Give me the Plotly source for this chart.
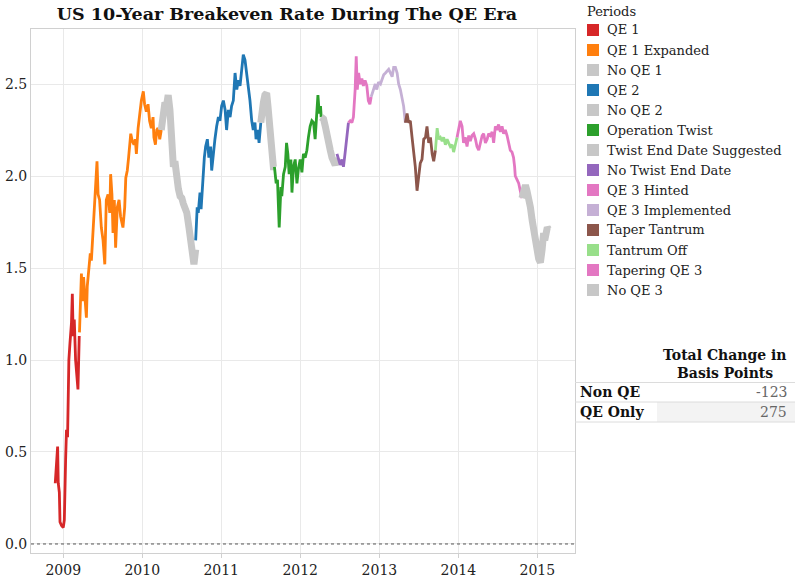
import plotly.graph_objects as go

# ---------------- data ----------------
periods = ["QE 1", "QE 1 Expanded", "No QE 1", "QE 2", "No QE 2", "Operation Twist",
           "Twist End Date Suggested", "No Twist End Date", "QE 3 Hinted", "QE 3 Implemented",
           "Taper Tantrum", "Tantrum Off", "Tapering QE 3", "No QE 3"]
period_colors = ["#d62728", "#ff7f0e", "#c7c7c7", "#1f77b4", "#c7c7c7", "#2ca02c",
                 "#c7c7c7", "#9467bd", "#e377c2", "#c5b0d5",
                 "#8c564b", "#98df8a", "#e377c2", "#c7c7c7"]
non_qe_periods = ["No QE 1", "No QE 2", "Twist End Date Suggested", "No QE 3"]

qe1_dates = ["2008-11-25", "2008-12-06", "2008-12-09", "2008-12-14", "2008-12-17", "2008-12-24",
             "2009-01-01", "2009-01-06", "2009-01-12", "2009-01-16", "2009-01-21", "2009-01-27",
             "2009-02-01", "2009-02-08", "2009-02-12", "2009-02-16", "2009-02-21", "2009-02-27",
             "2009-03-10", "2009-03-16"]
qe1_vals = [0.33, 0.53, 0.33, 0.28, 0.12, 0.10, 0.09, 0.13, 0.46, 0.62, 0.58, 1.00,
            1.09, 1.20, 1.36, 1.13, 1.22, 1.00, 0.84, 1.13]

qe1x_dates = ["2009-03-17", "2009-03-23", "2009-03-26", "2009-03-30", "2009-04-05", "2009-04-10",
              "2009-04-18", "2009-04-22", "2009-04-29", "2009-05-06", "2009-05-11", "2009-05-19",
              "2009-05-26", "2009-05-31", "2009-06-06", "2009-06-11", "2009-06-18", "2009-06-26",
              "2009-07-04", "2009-07-12", "2009-07-19", "2009-07-27", "2009-08-04", "2009-08-08",
              "2009-08-14", "2009-08-19", "2009-08-25", "2009-08-31", "2009-09-08", "2009-09-16",
              "2009-09-23", "2009-10-04", "2009-10-12", "2009-10-17", "2009-10-24", "2009-10-30",
              "2009-11-04", "2009-11-09", "2009-11-16", "2009-11-24", "2009-11-30", "2009-12-05",
              "2009-12-13", "2009-12-20", "2009-12-28", "2010-01-06", "2010-01-12", "2010-01-20",
              "2010-01-28", "2010-02-04", "2010-02-12", "2010-02-20", "2010-02-24", "2010-03-03",
              "2010-03-09", "2010-03-15", "2010-03-23", "2010-03-30"]
qe1x_vals = [1.15, 1.36, 1.47, 1.32, 1.45, 1.36, 1.23, 1.40, 1.52, 1.58, 1.54, 1.72,
             1.81, 1.94, 2.08, 1.90, 1.87, 1.72, 1.65, 1.52, 1.87, 1.90, 1.80, 2.01,
             1.90, 1.69, 1.87, 1.61, 1.83, 1.87, 1.78, 1.72, 1.83, 1.99, 2.03, 2.10,
             2.16, 2.23, 2.19, 2.17, 2.20, 2.12, 2.26, 2.35, 2.41, 2.46, 2.39, 2.35,
             2.39, 2.30, 2.26, 2.32, 2.21, 2.17, 2.25, 2.26, 2.20, 2.25]

noqe1_dates = ["2010-03-30", "2010-04-08", "2010-04-16", "2010-04-23", "2010-05-01", "2010-05-09",
               "2010-05-17", "2010-05-25", "2010-06-01", "2010-06-09", "2010-06-17", "2010-06-25",
               "2010-07-03", "2010-07-10", "2010-07-18", "2010-07-26", "2010-08-05", "2010-08-14",
               "2010-08-22", "2010-08-28", "2010-09-05"]
noqe1_vals = [2.25, 2.33, 2.40, 2.38, 2.44, 2.36, 2.22, 2.05, 2.08, 1.97, 1.93, 1.89,
              1.88, 1.85, 1.83, 1.80, 1.72, 1.65, 1.58, 1.52, 1.60]

qe2_dates = ["2010-09-05", "2010-09-12", "2010-09-17", "2010-09-25", "2010-09-30", "2010-10-06",
             "2010-10-15", "2010-10-21", "2010-10-29", "2010-11-05", "2010-11-13", "2010-11-18",
             "2010-11-26", "2010-12-03", "2010-12-11", "2010-12-19", "2010-12-26", "2011-01-03",
             "2011-01-11", "2011-01-19", "2011-01-26", "2011-02-03", "2011-02-11", "2011-02-18",
             "2011-02-26", "2011-03-06", "2011-03-14", "2011-03-21", "2011-03-29", "2011-04-06",
             "2011-04-13", "2011-04-21", "2011-04-29", "2011-05-06", "2011-05-14", "2011-05-22",
             "2011-05-29", "2011-06-06", "2011-06-11", "2011-06-19", "2011-06-25", "2011-07-03"]
qe2_vals = [1.65, 1.83, 1.80, 1.91, 1.82, 1.94, 2.10, 2.16, 2.20, 2.10, 2.16, 2.03,
            2.14, 2.20, 2.27, 2.32, 2.30, 2.38, 2.41, 2.36, 2.25, 2.36, 2.32, 2.38,
            2.41, 2.56, 2.47, 2.52, 2.49, 2.59, 2.66, 2.63, 2.56, 2.50, 2.41, 2.30,
            2.25, 2.29, 2.20, 2.25, 2.18, 2.29]

noqe2_dates = ["2011-07-03", "2011-07-08", "2011-07-15", "2011-07-22", "2011-07-30", "2011-08-05",
               "2011-08-10", "2011-08-15", "2011-08-20", "2011-08-25", "2011-08-30", "2011-09-04"]
noqe2_vals = [2.29, 2.36, 2.40, 2.44, 2.45, 2.38, 2.30, 2.24, 2.17, 2.10, 2.05, 2.05]

twist_dates = ["2011-09-04", "2011-09-12", "2011-09-18", "2011-09-26", "2011-10-04", "2011-10-08",
               "2011-10-16", "2011-10-24", "2011-10-30", "2011-11-05", "2011-11-11", "2011-11-19",
               "2011-11-24", "2011-12-01", "2011-12-09", "2011-12-17", "2011-12-24", "2012-01-01",
               "2012-01-09", "2012-01-16", "2012-01-24", "2012-02-01", "2012-02-08", "2012-02-16",
               "2012-02-24", "2012-03-03", "2012-03-10", "2012-03-18", "2012-03-23", "2012-03-29",
               "2012-04-04", "2012-04-07"]
twist_vals = [2.05, 1.96, 1.98, 1.72, 1.94, 1.89, 2.01, 2.05, 2.18, 2.12, 2.01, 2.09,
              1.91, 2.05, 2.09, 1.96, 2.04, 2.09, 2.02, 2.12, 2.10, 2.14, 2.21, 2.27,
              2.30, 2.29, 2.20, 2.36, 2.44, 2.34, 2.38, 2.32]

twist_end_dates = ["2012-04-07", "2012-04-18", "2012-04-26", "2012-05-03", "2012-05-11",
                   "2012-05-19", "2012-05-27", "2012-06-03", "2012-06-11", "2012-06-19"]
twist_end_vals = [2.32, 2.31, 2.27, 2.21, 2.20, 2.14, 2.10, 2.07, 2.06, 2.10]

no_twist_end_dates = ["2012-06-19", "2012-06-26", "2012-07-04", "2012-07-12", "2012-07-19",
                      "2012-07-27", "2012-08-04", "2012-08-11"]
no_twist_end_vals = [2.12, 2.09, 2.06, 2.09, 2.05, 2.13, 2.23, 2.29]

qe3_hint_dates = ["2012-08-11", "2012-08-19", "2012-08-27", "2012-09-03", "2012-09-11", "2012-09-16",
                  "2012-09-21", "2012-09-27", "2012-10-04", "2012-10-12", "2012-10-19", "2012-10-27",
                  "2012-11-04", "2012-11-11", "2012-11-18", "2012-11-24"]
qe3_hint_vals = [2.29, 2.30, 2.29, 2.32, 2.47, 2.65, 2.47, 2.56, 2.50, 2.53, 2.49, 2.52,
                 2.49, 2.41, 2.39, 2.43]

qe3_impl_dates = ["2012-11-24", "2012-12-05", "2012-12-13", "2012-12-20", "2012-12-28", "2013-01-06",
                  "2013-01-13", "2013-01-21", "2013-01-29", "2013-02-06", "2013-02-13", "2013-02-21",
                  "2013-03-01", "2013-03-08", "2013-03-16", "2013-03-24", "2013-03-31", "2013-04-08",
                  "2013-04-16", "2013-04-23", "2013-05-01"]
qe3_impl_vals = [2.43, 2.47, 2.50, 2.47, 2.51, 2.50, 2.53, 2.55, 2.56, 2.57, 2.58, 2.56,
                 2.54, 2.59, 2.59, 2.56, 2.50, 2.47, 2.42, 2.38, 2.29]

tantrum_dates = ["2013-05-01", "2013-05-09", "2013-05-16", "2013-05-24", "2013-06-01", "2013-06-08",
                 "2013-06-16", "2013-06-24", "2013-07-02", "2013-07-09", "2013-07-17", "2013-07-25",
                 "2013-08-02", "2013-08-09", "2013-08-17", "2013-08-25", "2013-09-02", "2013-09-09",
                 "2013-09-17"]
tantrum_vals = [2.29, 2.34, 2.29, 2.30, 2.21, 2.14, 2.05, 1.92, 2.01, 2.07, 2.09, 2.20,
                2.21, 2.27, 2.18, 2.21, 2.12, 2.08, 2.14]

tantrum_off_dates = ["2013-09-17", "2013-09-25", "2013-10-02", "2013-10-10", "2013-10-18", "2013-10-25",
                     "2013-11-02", "2013-11-10", "2013-11-17", "2013-11-25", "2013-12-03", "2013-12-10",
                     "2013-12-18", "2013-12-26"]
tantrum_off_vals = [2.14, 2.26, 2.20, 2.21, 2.19, 2.21, 2.17, 2.20, 2.18, 2.16, 2.17, 2.13,
                    2.17, 2.21]

tapering_dates = ["2013-12-26", "2014-01-02", "2014-01-10", "2014-01-18", "2014-01-25", "2014-02-02",
                  "2014-02-10", "2014-02-18", "2014-02-25", "2014-03-05", "2014-03-13", "2014-03-21",
                  "2014-03-28", "2014-04-05", "2014-04-13", "2014-04-21", "2014-04-28", "2014-05-06",
                  "2014-05-14", "2014-05-21", "2014-05-29", "2014-06-06", "2014-06-13", "2014-06-21",
                  "2014-06-29", "2014-07-06", "2014-07-14", "2014-07-22", "2014-07-29", "2014-08-06",
                  "2014-08-14", "2014-08-21", "2014-08-29", "2014-09-06", "2014-09-13", "2014-09-18",
                  "2014-09-21", "2014-09-29", "2014-10-07", "2014-10-14", "2014-10-22"]
tapering_vals = [2.21, 2.25, 2.30, 2.27, 2.18, 2.21, 2.16, 2.22, 2.19, 2.22, 2.23, 2.20,
                 2.16, 2.14, 2.18, 2.22, 2.23, 2.18, 2.20, 2.23, 2.22, 2.24, 2.18, 2.27,
                 2.25, 2.28, 2.24, 2.27, 2.23, 2.25, 2.22, 2.18, 2.14, 2.13, 2.10, 2.05,
                 2.00, 1.98, 1.96, 1.92, 1.88]

noqe3_dates = ["2014-10-22", "2014-10-30", "2014-11-07", "2014-11-14", "2014-11-22", "2014-11-30",
               "2014-12-08", "2014-12-15", "2014-12-23", "2014-12-31", "2015-01-07", "2015-01-15",
               "2015-01-23", "2015-01-30", "2015-02-04", "2015-02-10", "2015-02-16", "2015-02-22"]
noqe3_vals = [1.88, 1.94, 1.95, 1.92, 1.89, 1.83, 1.76, 1.69, 1.63, 1.60, 1.55, 1.53,
              1.60, 1.69, 1.65, 1.71, 1.72, 1.71]

series_dates = [qe1_dates, qe1x_dates, noqe1_dates, qe2_dates, noqe2_dates, twist_dates,
                twist_end_dates, no_twist_end_dates, qe3_hint_dates, qe3_impl_dates,
                tantrum_dates, tantrum_off_dates, tapering_dates, noqe3_dates]
series_vals = [qe1_vals, qe1x_vals, noqe1_vals, qe2_vals, noqe2_vals, twist_vals,
               twist_end_vals, no_twist_end_vals, qe3_hint_vals, qe3_impl_vals,
               tantrum_vals, tantrum_off_vals, tapering_vals, noqe3_vals]

y_ticks = [0.0, 0.5, 1.0, 1.5, 2.0, 2.5]
table_header = ["Total Change in", "Basis Points"]
table_labels = ["Non QE", "QE Only"]
table_values = [-123, 275]

title_text = "US 10-Year Breakeven Rate During The QE Era"
legend_title = "Periods"

# ---------------- layout geometry (pixels) ----------------
W, H = 804, 584
L, R, T, B = 31, 575, 29, 553
FONT = "DejaVu Serif"


def fx(px):
    return (px - L) / (R - L)


def fy(py):
    return (B - py) / (B - T)


fig = go.Figure()

for name, col, d, v in zip(periods, period_colors, series_dates, series_vals):
    width = 7 if name in non_qe_periods else 2.8
    fig.add_trace(go.Scatter(x=d, y=v, mode="lines", name=name,
                             line=dict(color=col, width=width),
                             showlegend=False,
                             hovertemplate="%{x|%b %d, %Y}: %{y:.2f}<extra>" + name + "</extra>"))

shapes = []
annotations = []

# zero line (dotted)
shapes.append(dict(type="line", xref="paper", yref="y", x0=0, x1=1, y0=0, y1=0,
                   line=dict(color="#555555", width=1, dash="dot"), layer="above"))

# manual legend
annotations.append(dict(text=legend_title, xref="paper", yref="paper", x=fx(585), y=fy(11),
                        xanchor="left", yanchor="middle", showarrow=False,
                        font=dict(family=FONT, size=13, color="#222222")))
for i, (name, col) in enumerate(zip(periods, period_colors)):
    cy = 30 + 20 * i
    shapes.append(dict(type="rect", xref="paper", yref="paper",
                       x0=fx(587), x1=fx(599), y0=fy(cy - 6), y1=fy(cy + 6),
                       fillcolor=col, line=dict(width=0)))
    annotations.append(dict(text=name, xref="paper", yref="paper", x=fx(605), y=fy(cy),
                            xanchor="left", yanchor="middle", showarrow=False,
                            font=dict(family=FONT, size=13, color="#222222")))

# table
for j, txt in enumerate(table_header):
    annotations.append(dict(text="<b>" + txt + "</b>", xref="paper", yref="paper",
                            x=fx(725), y=fy(355 + 18 * j), xanchor="center", yanchor="middle",
                            showarrow=False, font=dict(family=FONT, size=14, color="#111111")))
shapes.append(dict(type="rect", xref="paper", yref="paper", x0=fx(657), x1=fx(795),
                   y0=fy(402), y1=fy(422), fillcolor="#f3f3f3", line=dict(width=0), layer="below"))
for yline in [382.5, 402, 422]:
    shapes.append(dict(type="line", xref="paper", yref="paper", x0=fx(575), x1=fx(795),
                       y0=fy(yline), y1=fy(yline), line=dict(color="#dcdcdc", width=1)))
for k, (lab, val) in enumerate(zip(table_labels, table_values)):
    cy = 392 + 20 * k
    annotations.append(dict(text="<b>" + lab + "</b>", xref="paper", yref="paper",
                            x=fx(578), y=fy(cy), xanchor="left", yanchor="middle",
                            showarrow=False, font=dict(family=FONT, size=14, color="#111111")))
    annotations.append(dict(text=str(val), xref="paper", yref="paper",
                            x=fx(789), y=fy(cy), xanchor="right", yanchor="middle",
                            showarrow=False, font=dict(family=FONT, size=14, color="#666666")))

fig.update_layout(
    width=W, height=H,
    margin=dict(l=L, r=W - R, t=T, b=H - B, pad=0, autoexpand=False),
    paper_bgcolor="white", plot_bgcolor="white",
    title=dict(text="<b>" + title_text + "</b>", x=287 / W, xanchor="center",
               y=1 - 14 / H, yanchor="middle", font=dict(family=FONT, size=17.5, color="#111111")),
    font=dict(family=FONT, size=14, color="#222222"),
    showlegend=False,
    shapes=shapes, annotations=annotations,
    xaxis=dict(type="date", range=["2008-08-05", "2015-06-24"], automargin=False,
               tickformat="%Y", dtick="M12", tick0="2009-01-01",
               showgrid=True, gridcolor="#e9e9e9", gridwidth=1,
               showline=True, linecolor="#d0d0d0", linewidth=1, mirror=True,
               ticks="outside", ticklen=4, tickcolor="#d0d0d0",
               tickfont=dict(family=FONT, size=14, color="#222222"), zeroline=False),
    yaxis=dict(range=[-0.049, 2.799], tickvals=y_ticks, tickformat=".1f", automargin=False,
               showgrid=True, gridcolor="#e9e9e9", gridwidth=1,
               showline=True, linecolor="#d0d0d0", linewidth=1, mirror=True,
               ticks="", tickfont=dict(family=FONT, size=14, color="#222222"),
               zeroline=False),
)

fig.write_html("out.html", include_plotlyjs=True,
               config={"displayModeBar": False},
               post_script="document.body.style.margin='0';")
